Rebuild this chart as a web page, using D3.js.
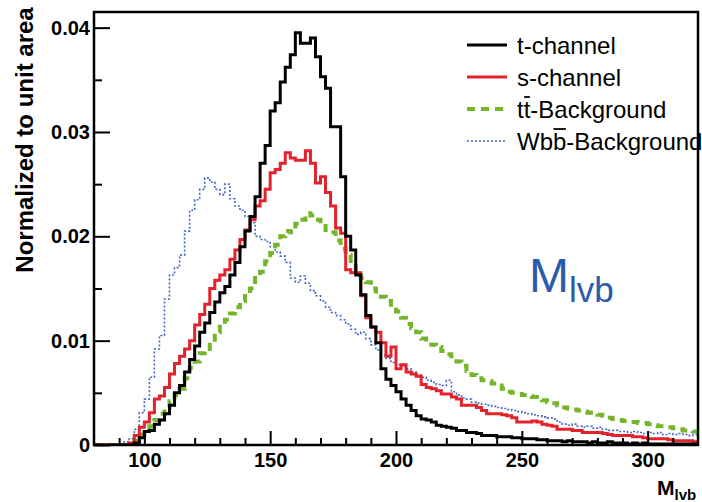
<!DOCTYPE html>
<head>
  <meta charset="utf-8">
  <script src="https://cdnjs.cloudflare.com/ajax/libs/d3/7.8.5/d3.min.js"></script>
</head>

<style>
  body { margin: 0; background: #fff; }
  text { font-family: "Liberation Sans", Arial, Helvetica, sans-serif; }
  .axis text { font-size: 20px; font-weight: bold; fill: #000; }
  .axis line { stroke: #000; stroke-width: 2; }
  .axis path { display: none; }
  .legend text { font-size: 24px; fill: #000; }
</style>

<body>
  <svg width="702" height="502" viewBox="0 0 702 502" class="mlvb"></svg>

  <script>
  // histogram bins: 2 GeV wide, first bin starts at 80
  const binStart = 80, binWidth = 2;

  const tChannel = [
    0, 0, 0, 0, 0, 0, 0, 0,
    0.0002, 0.0007, 0.0013, 0.0014, 0.0020, 0.0024, 0.0030, 0.0038, 0.0050, 0.0057,
    0.0070, 0.0082, 0.0095, 0.0108, 0.0117, 0.0127, 0.0137, 0.0146, 0.0152, 0.0163,
    0.0175, 0.0190, 0.0205, 0.0219, 0.0238, 0.0270, 0.0287, 0.0320, 0.0328, 0.0348,
    0.0362, 0.0374, 0.0395, 0.0385, 0.0385, 0.0390, 0.0372, 0.0353, 0.0342, 0.0305,
    0.0305, 0.0257, 0.0200, 0.0187, 0.0163, 0.0144, 0.0124, 0.0113, 0.0098, 0.0073,
    0.0063, 0.0057, 0.0051, 0.0044, 0.0038, 0.0033, 0.0028, 0.0025, 0.0024, 0.0022,
    0.0019, 0.0018, 0.0017, 0.0016, 0.0014, 0.0014, 0.0012, 0.0012, 0.0011, 0.0009,
    0.0009, 0.0009, 0.0008, 0.0008, 0.0008, 0.0007, 0.0007, 0.0006, 0.0006, 0.0006,
    0.0005, 0.0005, 0.0004, 0.0004, 0.0004, 0.0003, 0.0004, 0.0003, 0.0003, 0.0003,
    0.0002, 0.0003, 0.0002, 0.0002, 0.0003, 0.0002, 0.0002, 0.0002, 0.0001, 0.0002,
    0.0001, 0.0002, 0.0001, 0.0001, 0.0001, 0.0001, 0.0001, 0.0001, 0.0001, 0.0001,
    0.0001, 0.0001
  ];

  const sChannel = [
    0, 0, 0, 0, 0, 0, 0,
    0.0002, 0.0009, 0.0017, 0.0022, 0.0031, 0.0044, 0.0047, 0.0055, 0.0068, 0.0078,
    0.0085, 0.0092, 0.0100, 0.0115, 0.0125, 0.0135, 0.0150, 0.0158, 0.0163, 0.0168,
    0.0178, 0.0187, 0.0197, 0.0206, 0.0216, 0.0229, 0.0234, 0.0245, 0.0261, 0.0264,
    0.0270, 0.0280, 0.0275, 0.0273, 0.0273, 0.0282, 0.0270, 0.0251, 0.0257, 0.0242,
    0.0229, 0.0208, 0.0203, 0.0168, 0.0165, 0.0165, 0.0143, 0.0122, 0.0113, 0.0108,
    0.0098, 0.0085, 0.0094, 0.0073, 0.0077, 0.0070, 0.0068, 0.0066, 0.0058, 0.0055,
    0.0054, 0.0052, 0.0049, 0.0049, 0.0046, 0.0044, 0.0038, 0.0038, 0.0038, 0.0036,
    0.0033, 0.0030, 0.0030, 0.0030, 0.0029, 0.0028, 0.0026, 0.0022, 0.0022, 0.0022,
    0.0023, 0.0022, 0.0020, 0.0019, 0.0018, 0.0015, 0.0015, 0.0015, 0.0014, 0.0014,
    0.0012, 0.0012, 0.0012, 0.0012, 0.0011, 0.0010, 0.0009, 0.0009, 0.0009, 0.0009,
    0.0008, 0.0008, 0.0007, 0.0006, 0.0006, 0.0006, 0.0006, 0.0005, 0.0004, 0.0004,
    0.0004, 0.0004, 0.0003
  ];

  const ttBackground = [
    0, 0, 0, 0, 0, 0, 0, 0,
    0.0004, 0.0010, 0.0014, 0.0018, 0.0024, 0.0030, 0.0036, 0.0042, 0.0048, 0.0054,
    0.0064, 0.0074, 0.0080, 0.0088, 0.0092, 0.0098, 0.0108, 0.0116, 0.0120, 0.0126,
    0.0132, 0.0138, 0.0145, 0.0150, 0.0160, 0.0166, 0.0176, 0.0184, 0.0192, 0.0200,
    0.0205, 0.0204, 0.0212, 0.0216, 0.0222, 0.0220, 0.0216, 0.0210, 0.0206, 0.0204,
    0.0196, 0.0188, 0.0182, 0.0174, 0.0166, 0.0160, 0.0156, 0.0150, 0.0147, 0.0142,
    0.0138, 0.0132, 0.0128, 0.0122, 0.0116, 0.0112, 0.0108, 0.0102, 0.0099, 0.0096,
    0.0094, 0.0090, 0.0087, 0.0083, 0.0080, 0.0076, 0.0071, 0.0067, 0.0064, 0.0062,
    0.0061, 0.0059, 0.0057, 0.0054, 0.0051, 0.0050, 0.0049, 0.0048, 0.0047, 0.0046,
    0.0044, 0.0043, 0.0041, 0.0040, 0.0038, 0.0036, 0.0035, 0.0034, 0.0033, 0.0032,
    0.0031, 0.0031, 0.0029, 0.0028, 0.0026, 0.0025, 0.0024, 0.0023, 0.0022, 0.0022,
    0.0021, 0.0021, 0.0020, 0.0019, 0.0018, 0.0018, 0.0017, 0.0016, 0.0015, 0.0014,
    0.0014, 0.0013
  ];

  const wbbBackground = [
    0, 0, 0, 0, 0,
    0.0001, 0.0003, 0.0006, 0.0015, 0.0031, 0.0044, 0.0065, 0.0092, 0.0105, 0.0140,
    0.0163, 0.0170, 0.0182, 0.0205, 0.0225, 0.0235, 0.0245, 0.0256, 0.0252, 0.0245,
    0.0240, 0.0250, 0.0236, 0.0229, 0.0225, 0.0219, 0.0213, 0.0200, 0.0197, 0.0195,
    0.0190, 0.0185, 0.0181, 0.0175, 0.0160, 0.0156, 0.0162, 0.0155, 0.0148, 0.0143,
    0.0138, 0.0132, 0.0127, 0.0124, 0.0120, 0.0116, 0.0111, 0.0106, 0.0108, 0.0102,
    0.0096, 0.0091, 0.0086, 0.0083, 0.0079, 0.0077, 0.0075, 0.0073, 0.0070, 0.0067,
    0.0065, 0.0062, 0.0060, 0.0058, 0.0057, 0.0062, 0.0051, 0.0048, 0.0045, 0.0044,
    0.0041, 0.0040, 0.0039, 0.0038, 0.0037, 0.0036, 0.0035, 0.0034, 0.0033, 0.0032,
    0.0031, 0.0030, 0.0029, 0.0028, 0.0027, 0.0026, 0.0025, 0.0022, 0.0020, 0.0019,
    0.0020, 0.0018, 0.0017, 0.0018, 0.0016, 0.0017, 0.0015, 0.0014, 0.0014, 0.0013,
    0.0013, 0.0012, 0.0013, 0.0012, 0.0011, 0.0012, 0.0011, 0.0012, 0.0010, 0.0011,
    0.0010, 0.0011, 0.0010, 0.0009, 0.0010
  ];

  const xMajorTicks = [100, 150, 200, 250, 300];
  const xMinorTicks = [90, 110, 120, 130, 140, 160, 170, 180, 190, 210, 220, 230, 240, 260, 270, 280, 290, 310];
  const yMajorTicks = [0, 0.01, 0.02, 0.03, 0.04];
  const yMinorTicks = [0.005, 0.015, 0.025, 0.035];

  const series = [
    {name: "t-channel",       values: tChannel,      color: "#000000", width: 3,   dash: null},
    {name: "s-channel",       values: sChannel,      color: "#e3232b", width: 3,   dash: null},
    {name: "tt-Background",   values: ttBackground,  color: "#74b52c", width: 4,   dash: "8,6", bar: 1},
    {name: "Wbb-Background",  values: wbbBackground, color: "#4366c4", width: 1.6, dash: "2,2", bar: 2}
  ];

  let svg = d3.select(".mlvb");

  let pLeft = 94, pRight = 698, pTop = 12, pBottom = 445;

  let x = d3.scaleLinear().domain([80, 320]).range([pLeft, pRight]);
  let y = d3.scaleLinear().domain([0, 0.0415]).range([pBottom, pTop]);

  svg.append("clipPath").attr("id", "plotclip")
    .append("rect")
      .attr("x", pLeft).attr("y", pTop)
      .attr("width", pRight - pLeft).attr("height", pBottom - pTop);

  // histograms, drawn back to front
  let step = d3.line()
      .x(function(d) { return x(d[0]); })
      .y(function(d) { return y(d[1]); })
      .curve(d3.curveStepAfter);

  let hists = svg.append("g").attr("clip-path", "url(#plotclip)");
  series.slice().reverse().forEach(function(s) {
    let pts = s.values.map(function(v, i) { return [binStart + i * binWidth, v]; });
    pts.push([binStart + s.values.length * binWidth, s.values[s.values.length - 1]]);
    hists.append("path")
      .attr("d", step(pts))
      .attr("fill", "none")
      .attr("stroke", s.color)
      .attr("stroke-width", s.width)
      .attr("stroke-dasharray", s.dash)
      .attr("stroke-linejoin", "miter");
  });

  // axes: ticks point into the frame
  svg.append("g")
      .attr("class", "axis")
      .attr("transform", "translate(0," + pBottom + ")")
      .call(d3.axisBottom(x).tickValues(xMinorTicks).tickSize(-7).tickFormat(""));

  svg.append("g")
      .attr("class", "axis")
      .attr("transform", "translate(0," + pBottom + ")")
      .call(d3.axisBottom(x).tickValues(xMajorTicks).tickSize(-14).tickPadding(8).tickFormat(d3.format("d")));

  svg.append("g")
      .attr("class", "axis")
      .attr("transform", "translate(" + pLeft + ",0)")
      .call(d3.axisLeft(y).tickValues(yMinorTicks).tickSize(-8).tickFormat(""));

  svg.append("g")
      .attr("class", "axis")
      .attr("transform", "translate(" + pLeft + ",0)")
      .call(d3.axisLeft(y).tickValues(yMajorTicks).tickSize(-16).tickPadding(4)
        .tickFormat(function(d) { return d === 0 ? "0" : d3.format(".2f")(d); }));

  // frame
  svg.append("rect")
      .attr("x", pLeft).attr("y", pTop)
      .attr("width", pRight - pLeft).attr("height", pBottom - pTop)
      .attr("fill", "none")
      .attr("stroke", "#000")
      .attr("stroke-width", 2.5);

  // axis titles
  svg.append("text")
      .attr("transform", "translate(33,140) rotate(-90)")
      .attr("text-anchor", "middle")
      .style("font-size", "24px")
      .style("font-weight", "bold")
      .text("Normalized to unit area");

  let xt = svg.append("text")
      .attr("x", 657).attr("y", 495)
      .style("font-weight", "bold");
  xt.append("tspan").style("font-size", "21px").text("M");
  xt.append("tspan").attr("dy", 5).style("font-size", "15px").text("lvb");

  // big label inside the plot
  let big = svg.append("text")
      .attr("x", 529).attr("y", 292)
      .attr("fill", "#2d5bab");
  big.append("tspan").style("font-size", "48px").text("M");
  big.append("tspan").attr("dy", 10).style("font-size", "35px").text("lvb");

  // legend
  let legend = svg.append("g").attr("class", "legend");
  series.forEach(function(s, i) {
    let cy = 45 + i * 32;
    legend.append("line")
      .attr("x1", 467).attr("x2", 507)
      .attr("y1", cy).attr("y2", cy)
      .attr("stroke", s.color)
      .attr("stroke-width", s.width)
      .attr("stroke-dasharray", s.dash);
    let t = legend.append("text")
      .attr("x", 517).attr("y", cy + 8.5)
      .text(s.name);
    if (s.bar) {
      // overline over the anti-quark letter
      let node = t.node();
      let a = node.getStartPositionOfChar(s.bar);
      let b = node.getEndPositionOfChar(s.bar);
      legend.append("line")
        .attr("x1", a.x + 0.5).attr("x2", b.x - 0.5)
        .attr("y1", cy - 12).attr("y2", cy - 12)
        .attr("stroke", "#000")
        .attr("stroke-width", 1.8);
    }
  });
  </script>
</body>
